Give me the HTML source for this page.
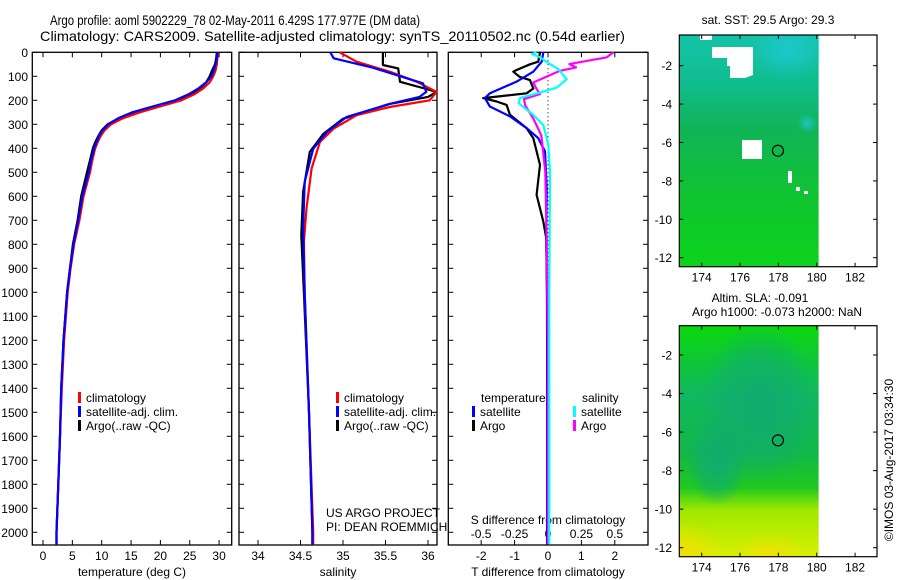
<!DOCTYPE html>
<html><head><meta charset="utf-8"><style>
html,body{margin:0;padding:0;background:#fff;}
svg{display:block;font-family:"Liberation Sans",sans-serif;}
</style></head><body>
<svg id="fig" width="900" height="580" viewBox="0 0 900 580">
<defs>
<linearGradient id="sstg" x1="0" y1="0" x2="0" y2="1">
<stop offset="0" stop-color="#14c4a8"/><stop offset="0.22" stop-color="#10bc8c"/><stop offset="0.4" stop-color="#10b458"/><stop offset="0.7" stop-color="#10c430"/><stop offset="1" stop-color="#0cd41c"/>
</linearGradient>
<radialGradient id="sstc" cx="0.5" cy="0.5" r="0.5"><stop offset="0" stop-color="#20c8d8" stop-opacity="0.8"/><stop offset="1" stop-color="#20c8d8" stop-opacity="0"/></radialGradient>
<linearGradient id="slag" x1="0" y1="0" x2="0" y2="1">
<stop offset="0" stop-color="#0cd80c"/><stop offset="0.3" stop-color="#10b860"/><stop offset="0.55" stop-color="#10b848"/><stop offset="0.7" stop-color="#20c820"/><stop offset="0.8" stop-color="#a0e800"/><stop offset="1" stop-color="#d8f000"/>
</linearGradient>
<radialGradient id="slat" cx="0.5" cy="0.5" r="0.5"><stop offset="0" stop-color="#10ac70"/><stop offset="0.6" stop-color="#10ac70" stop-opacity="0.6"/><stop offset="1" stop-color="#10ac70" stop-opacity="0"/></radialGradient>
<radialGradient id="slay" cx="0.5" cy="0.5" r="0.5"><stop offset="0" stop-color="#f0e000"/><stop offset="1" stop-color="#f0e000" stop-opacity="0"/></radialGradient>
<clipPath id="clipm1"><rect x="679.3" y="35" width="141" height="231.7"/></clipPath>
<clipPath id="clipm2"><rect x="679.3" y="325.7" width="141" height="231"/></clipPath>
</defs>
<text x="50" y="25" font-size="14" textLength="370" lengthAdjust="spacingAndGlyphs">Argo profile: aoml 5902229_78 02-May-2011 6.429S 177.977E (DM data)</text>
<text x="40" y="41" font-size="14" textLength="585" lengthAdjust="spacingAndGlyphs">Climatology: CARS2009. Satellite-adjusted climatology: synTS_20110502.nc (0.54d earlier)</text>
<g id="p1"></g>
<g id="p2"></g>
<g id="p3"></g>
<g id="m1"></g>
<g id="m2"></g>
<text transform="translate(893,460) rotate(-90)" font-size="12" text-anchor="middle">©IMOS 03-Aug-2017 03:34:30</text>
</svg>
<script>
// ---- data ----
const tempDepth = [0,25,50,75,100,125,150,175,200,225,250,275,300,325,350,375,400,450,500,600,700,800,900,1000,1200,1400,1600,1800,2000,2050];
const tempClim  = [29.8,29.7,29.6,29.4,29.0,28.4,27.3,25.8,23.6,20.0,16.5,13.6,11.6,10.5,9.8,9.3,8.9,8.4,8.0,6.9,6.2,5.3,4.7,4.2,3.6,3.2,2.9,2.6,2.3,2.3];
const tempSat   = [29.7,29.6,29.4,29.1,28.7,27.8,26.5,24.8,22.5,18.8,15.2,12.8,11.1,10.1,9.5,9.1,8.7,8.2,7.8,6.7,6.0,5.2,4.6,4.1,3.5,3.1,2.9,2.6,2.3,2.3];
const tempArgo  = [29.6,29.5,29.3,28.8,28.4,27.8,26.8,25.2,23.0,19.2,15.5,12.9,11.0,10.0,9.4,8.9,8.5,8.0,7.5,6.5,5.9,5.1,4.6,4.1,3.5,3.1,2.9,2.6,2.3,2.3];
const salDepthC = [0,39,81,123,165,200,228,262,318,373,484,650,789,1011,1500,2000,2050];
const salClim   = [34.96,35.16,35.55,35.87,36.10,36.02,35.55,35.16,34.89,34.73,34.63,34.57,34.54,34.55,34.60,34.65,34.65];
const salDepthS = [0,25,64,129,165,186,215,270,332,402,540,734,1000,1500,2000,2050];
const salSat    = [34.85,34.89,35.35,35.94,35.98,35.90,35.55,35.04,34.81,34.65,34.55,34.53,34.55,34.60,34.64,34.64];
const salDepthA = [0,53,67,123,151,165,186,215,277,339,415,582,762,1000,1500,2000,2050];
const salArgo   = [35.47,35.47,35.65,35.67,35.96,36.10,36.00,35.55,35.00,34.77,34.61,34.53,34.51,34.54,34.60,34.64,34.64];
const dTSatDepth = [0,39,81,123,171,191,226,267,316,358,413,566,775,1000,1500,2050];
const dTSat      = [-0.14,-0.19,-0.44,-0.95,-1.74,-1.89,-1.74,-1.14,-0.64,-0.29,-0.09,-0.04,-0.05,-0.03,-0.02,-0.02];
const dTArgoDepth = [0,39,50,74,81,102,116,151,171,191,205,219,260,316,358,469,594,705,775,1000,1500,2050];
const dTArgo      = [-0.24,-0.29,-0.54,-0.95,-1.04,-0.85,-0.54,-0.44,-0.64,-1.94,-1.54,-1.24,-1.14,-0.64,-0.44,-0.24,-0.34,-0.14,-0.05,-0.03,-0.02,-0.02];
const dSSatDepth = [0,7,21,49,70,112,147,168,191,212,261,303,386,497,1000,2050];
const dSSat      = [-0.085,-0.12,-0.06,0.015,0.077,0.14,0.065,-0.06,-0.21,-0.22,-0.11,-0.035,0.002,0.015,0.01,0.01];
const dSArgoDepth = [0,21,49,63,77,126,153,174,195,222,276,346,497,775,1200,2050];
const dSArgo      = [0.49,0.44,0.16,0.21,0.09,-0.11,-0.085,-0.06,-0.18,-0.17,-0.11,-0.05,-0.02,-0.01,0.0,0.0];
const depthTicks = [0,100,200,300,400,500,600,700,800,900,1000,1100,1200,1300,1400,1500,1600,1700,1800,1900,2000];
const tempTicks = [0,5,10,15,20,25,30];
const salTicks = [34,34.5,35,35.5,36];
const salTickLabels = ["34","34.5","35","35.5","36"];
const dTTicks = [-2,-1,0,1,2];
const dSTicks = [-0.5,-0.25,0,0.25,0.5];
const dSTickLabels = ["-0.5","-0.25","0","0.25","0.5"];
const lonTicks = [174,176,178,180,182];
const latTicks = [-2,-4,-6,-8,-10,-12];
const argoLon = 177.977, argoLat = -6.429;

// ---- helpers ----
const NS="http://www.w3.org/2000/svg";
function mk(parent,tag,attrs,txt){const e=document.createElementNS(NS,tag);for(const k in attrs)e.setAttribute(k,attrs[k]);if(txt!==undefined)e.textContent=txt;parent.appendChild(e);return e;}
const TOP=52.3, BOT=545, DPX=0.24;
const yD = d => TOP + d*DPX;
const xT = t => 43 + t*5.87;
const xS = s => 258 + (s-34)*85;
const xdT = t => 548 + t*33.4;
const xdS = s => 548 + s*133.7;

function frame(g,x0,x1,name){
  const r=mk(g,'rect',{x:x0,y:TOP,width:x1-x0,height:BOT-TOP,fill:'none',stroke:'#000','stroke-width':1.3});
  
  
  depthTicks.forEach(d=>{
    const y=yD(d);
    const t1=mk(g,'line',{x1:x0,x2:x0+5,y1:y,y2:y,stroke:'#000'});
    
    
    const t2=mk(g,'line',{x1:x1-5,x2:x1,y1:y,y2:y,stroke:'#000'});
    
    
  });
}
function line(g,xs,ds,xf,color,name,w){
  const pts=xs.map((v,i)=>xf(v).toFixed(1)+','+yD(ds[i]).toFixed(1)).join(' ');
  const p=mk(g,'polyline',{points:pts,fill:'none',stroke:color,'stroke-width':w||2.2,'stroke-linejoin':'round'});
  
  
}
function xticks(g,vals,labels,xf,y,name,tickTop){
  vals.forEach((v,i)=>{
    const x=xf(v);
    const tb=mk(g,'line',{x1:x,x2:x,y1:BOT-5,y2:BOT,stroke:'#000'});
    
    
    if(tickTop){const tt=mk(g,'line',{x1:x,x2:x,y1:TOP,y2:TOP+5,stroke:'#000'});
      
      }
    const t=mk(g,'text',{x:x,y:y,'font-size':12,'text-anchor':'middle'},labels[i]);
    
    
  });
}
function legend(g,x,y,color,label){
  const r=mk(g,'rect',{x:x,y:y-10,width:3,height:11,fill:color});
  
  
  const t=mk(g,'text',{x:x+8,y:y,'font-size':12},label);
  
  
}

// ---- panel 1 ----
const p1=document.getElementById('p1');
frame(p1,32.3,231.7,'temperature-panel');
depthTicks.forEach(d=>{const t=mk(p1,'text',{x:28,y:yD(d)+4.5,'font-size':12,'text-anchor':'end'},String(d));
  
  });
xticks(p1,tempTicks,tempTicks.map(String),xT,560,'temperature-axis',true);
const xl1=mk(p1,'text',{x:132,y:576,'font-size':12,'text-anchor':'middle'},'temperature (deg C)');


line(p1,tempArgo,tempDepth,xT,'#000','temp-argo-line');
line(p1,tempClim,tempDepth,xT,'#f00','temp-climatology-line');
line(p1,tempSat,tempDepth,xT,'#00f','temp-satellite-line');
legend(p1,78,402,'#f00','climatology');
legend(p1,78,416,'#00f','satellite-adj. clim.');
legend(p1,78,430,'#000','Argo(..raw -QC)');

// ---- panel 2 ----
const p2=document.getElementById('p2');
frame(p2,239,437,'salinity-panel');
xticks(p2,salTicks,salTickLabels,xS,560,'salinity-axis',true);
const xl2=mk(p2,'text',{x:338,y:576,'font-size':12,'text-anchor':'middle'},'salinity');


line(p2,salArgo,salDepthA,xS,'#000','sal-argo-line');
line(p2,salClim,salDepthC,xS,'#f00','sal-climatology-line');
line(p2,salSat,salDepthS,xS,'#00f','sal-satellite-line');
legend(p2,336,402,'#f00','climatology');
legend(p2,336,416,'#00f','satellite-adj. clim.');
legend(p2,336,430,'#000','Argo(..raw -QC)');
const c1=mk(p2,'text',{x:326,y:517,'font-size':12},'US ARGO PROJECT');


const c2=mk(p2,'text',{x:326,y:531,'font-size':12},'PI: DEAN ROEMMICH');



// ---- panel 3 ----
const p3=document.getElementById('p3');
frame(p3,448.3,648,'difference-panel');
const zl=mk(p3,'line',{x1:xdT(0),x2:xdT(0),y1:TOP,y2:yD(1100),stroke:'#000','stroke-dasharray':'1,3'});


xticks(p3,dTTicks,dTTicks.map(String),xdT,560,'t-difference-axis',true);
dSTicks.forEach((v,i)=>{const t=mk(p3,'text',{x:xdS(v),y:538,'font-size':12,'text-anchor':'middle'},dSTickLabels[i]);
  
  });
const sl=mk(p3,'text',{x:548,y:524,'font-size':12,'text-anchor':'middle'},'S difference from climatology');


const tl=mk(p3,'text',{x:548,y:576,'font-size':12,'text-anchor':'middle'},'T difference from climatology');


line(p3,dTArgo,dTArgoDepth,xdT,'#000','dT-argo-line');
line(p3,dTSat,dTSatDepth,xdT,'#00f','dT-satellite-line');
line(p3,dSArgo,dSArgoDepth,xdS,'#f0f','dS-argo-line');
line(p3,dSSat,dSSatDepth,xdS,'#0ff','dS-satellite-line');
const lt=mk(p3,'text',{x:481,y:402,'font-size':12},'temperature');


const ls=mk(p3,'text',{x:582,y:402,'font-size':12},'salinity');


legend(p3,472,416,'#00f','satellite');
legend(p3,472,430,'#000','Argo');
legend(p3,573,416,'#0ff','satellite');
legend(p3,573,430,'#f0f','Argo');

// ---- maps ----
function map(gid,top,bot,yM2,yM12,kind,titles){
  const g=document.getElementById(gid);
  const L=679.3,R=877;
  const xL=lon=>701.7+(lon-174)*19.17;
  const yL=lat=>yM2+(lat+2)*(yM12-yM2)/(-10);
  const dataR=xL(180.1);
  const cg=mk(g,'g',{'clip-path':'url(#clip'+gid+')'});
  if(kind==='sst'){
    mk(cg,'rect',{x:L,y:top,width:dataR-L,height:bot-top,fill:'url(#sstg)'});
    mk(cg,'ellipse',{cx:xL(178.5),cy:yL(-1.2),rx:40,ry:30,fill:'url(#sstc)'});
    mk(cg,'ellipse',{cx:xL(179.5),cy:yL(-5),rx:10,ry:10,fill:'url(#sstc)'});
    mk(cg,'polygon',{points:'700,35 712,35 712,47 753,47 753,75 745,78 730,78 730,66 727,66 727,58 712,58 712,40 700,40',fill:'#fff'});
    mk(cg,'rect',{x:742,y:140,width:20,height:19,fill:'#fff'});
    mk(cg,'rect',{x:788,y:171,width:4,height:12,fill:'#fff'});
    mk(cg,'rect',{x:796,y:187,width:4,height:4,fill:'#fff'});
    mk(cg,'rect',{x:804,y:191,width:4,height:3,fill:'#fff'});
  } else {
    mk(cg,'rect',{x:L,y:top,width:dataR-L,height:bot-top,fill:'url(#slag)'});
    mk(cg,'ellipse',{cx:xL(177),cy:yL(-4.5),rx:60,ry:80,fill:'url(#slat)'});
    mk(cg,'ellipse',{cx:xL(174.8),cy:yL(-7.5),rx:30,ry:45,fill:'url(#slat)'});
    mk(cg,'ellipse',{cx:L+5,cy:bot-5,rx:40,ry:30,fill:'url(#slay)'});
    mk(cg,'ellipse',{cx:xL(177.5),cy:bot-3,rx:35,ry:20,fill:'url(#slay)'});
  }
  const fr=mk(g,'rect',{x:L,y:top,width:R-L,height:bot-top,fill:'none',stroke:'#000','stroke-width':1.2});
  
  
  lonTicks.forEach(v=>{const x=xL(v);
    mk(g,'line',{x1:x,x2:x,y1:bot,y2:bot-4,stroke:'#000'});
    mk(g,'line',{x1:x,x2:x,y1:top,y2:top+4,stroke:'#000'});
    const t=mk(g,'text',{x:x,y:bot+15,'font-size':12,'text-anchor':'middle'},String(v));
    
    });
  latTicks.forEach(v=>{const y=yL(v);
    mk(g,'line',{x1:L,x2:L+4,y1:y,y2:y,stroke:'#000'});
    mk(g,'line',{x1:R-4,x2:R,y1:y,y2:y,stroke:'#000'});
    const t=mk(g,'text',{x:672,y:y+4.5,'font-size':12,'text-anchor':'end'},String(v));
    
    });
  const c=mk(g,'circle',{cx:xL(argoLon),cy:yL(argoLat),r:5.5,fill:'none',stroke:'#000','stroke-width':1.2});
  
  
  titles.forEach((tt,i)=>{const t=mk(g,'text',{x:tt[1],y:tt[2],'font-size':12,'text-anchor':'middle'},tt[0]);
    
    });
}
map('m1',35,266.7,65.7,257.7,'sst',[['sat. SST: 29.5 Argo: 29.3',768,24]]);
map('m2',325.7,556.7,355,547.7,'sla',[['Altim. SLA: -0.091',760,302],['Argo h1000: -0.073 h2000: NaN',777,316]]);
</script>
</body></html>
